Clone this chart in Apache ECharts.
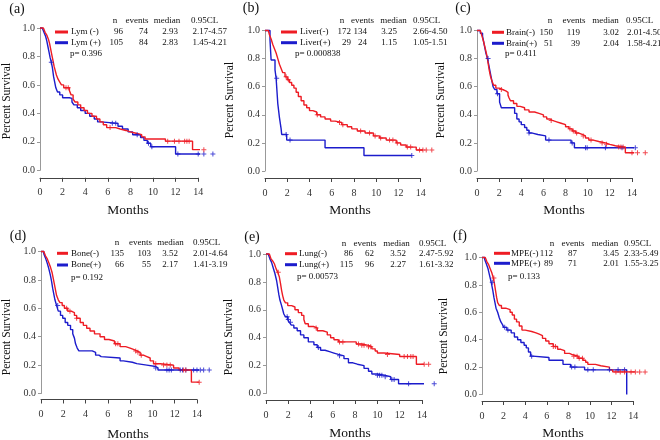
<!DOCTYPE html>
<html><head><meta charset="utf-8">
<script src="https://cdn.jsdelivr.net/npm/echarts@6/dist/echarts.min.js"></script>
<style>html,body{margin:0;padding:0;background:#fff}#c{width:660px;height:440px}</style>
</head><body><div id="c"></div>
<script>
// ---------- DATA ----------
const panelLabels = ['(a)','(b)','(c)','(d)','(e)','(f)'];
const groupNames = [['Lym (-)','Lym (+)'],['Liver(-)','Liver(+)'],['Brain(-)','Brain(+)'],['Bone(-)','Bone(+)'],['Lung(-)','Lung(+)'],['MPE(-)','MPE(+)']];
const nVals = [[96,105],[172,29],[150,51],[135,66],[86,115],[112,89]];
const eventVals = [[74,84],[134,24],[119,39],[103,55],[62,96],[87,71]];
const medianVals = [['2.93','2.83'],['3.25','1.15'],['3.02','2.04'],['3.52','2.17'],['3.52','2.27'],['3.45','2.01']];
const clVals = [['2.17-4.57','1.45-4.21'],['2.66-4.50','1.05-1.51'],['2.01-4.50','1.58-4.21'],['2.01-4.64','1.41-3.19'],['2.47-5.92','1.61-3.32'],['2.33-5.49','1.55-3.25']];
const pVals = ['0.396','0.000838','0.411','0.192','0.00573','0.133'];
const headerText = ['n','events','median','0.95CL'];
const xTitle = 'Months';
const yTitle = 'Percent Survival';

// Kaplan-Meier curves: [months, survival]
const lymNeg = [[0,1],[0.3,0.99],[0.45,0.97],[0.6,0.95],[0.75,0.92],[0.85,0.89],[0.95,0.85],[1.05,0.81],[1.15,0.77],[1.25,0.73],[1.35,0.70],[1.45,0.67],[1.6,0.64],[1.75,0.62],[1.9,0.60],[2.1,0.58],[2.6,0.56],[2.75,0.53],[2.93,0.50],[3.1,0.48],[3.35,0.46],[3.6,0.44],[3.9,0.42],[4.2,0.40],[4.6,0.38],[5.0,0.36],[5.3,0.34],[5.6,0.32],[5.9,0.30],[6.7,0.29],[7.1,0.28],[7.6,0.27],[8.0,0.26],[8.5,0.25],[9.0,0.235],[9.3,0.22],[11.1,0.205],[13.5,0.145],[14.6,0.145]];
const lymNegCens = [2.3,2.5,6.2,11.3,11.9,12.3,12.8,13.0,13.2,14.5];
const lymPos = [[0,1],[0.2,0.99],[0.35,0.97],[0.5,0.94],[0.6,0.91],[0.7,0.87],[0.8,0.83],[0.9,0.79],[1.0,0.76],[1.1,0.72],[1.2,0.66],[1.3,0.62],[1.4,0.58],[1.55,0.55],[1.75,0.53],[2.0,0.51],[2.6,0.505],[2.83,0.48],[3.0,0.46],[3.3,0.44],[3.6,0.42],[4.0,0.40],[4.4,0.38],[4.8,0.36],[5.1,0.34],[5.4,0.33],[6.9,0.31],[7.3,0.29],[7.8,0.27],[8.2,0.25],[8.9,0.23],[9.2,0.21],[9.5,0.19],[9.8,0.165],[12.0,0.115],[15.3,0.115]];
const lymPosCens = [1.0,6.4,6.7,8.6,9.6,9.9,12.2,14.0,14.5,15.3];

const liverNeg = [[0,1],[0.3,0.99],[0.4,0.97],[0.55,0.94],[0.7,0.90],[0.85,0.87],[1.0,0.84],[1.15,0.80],[1.3,0.76],[1.45,0.73],[1.6,0.70],[1.8,0.67],[2.0,0.65],[2.2,0.63],[2.4,0.61],[2.6,0.59],[2.8,0.56],[3.0,0.53],[3.25,0.50],[3.5,0.47],[3.75,0.45],[4.0,0.43],[4.3,0.42],[4.65,0.40],[5.0,0.385],[5.4,0.37],[5.9,0.355],[6.3,0.345],[6.9,0.33],[7.4,0.315],[7.8,0.30],[8.3,0.285],[9.0,0.27],[9.75,0.25],[10.3,0.235],[10.9,0.22],[11.8,0.20],[12.2,0.185],[12.7,0.17],[13.6,0.15],[15.0,0.15]];
const liverNegCens = [1.9,2.1,4.7,6.7,7.0,8.6,9.4,9.9,10.4,11.2,11.5,11.9,12.8,13.1,13.9,14.2,14.5,15.0];
const liverPos = [[0,1],[0.45,0.93],[0.5,0.86],[0.55,0.79],[0.9,0.72],[1.0,0.66],[1.15,0.48],[1.3,0.38],[1.45,0.30],[1.5,0.26],[1.95,0.22],[5.4,0.165],[8.9,0.11],[13.2,0.11]];
const liverPosCens = [1.05,1.9,2.25,13.2];

const brainNeg = [[0,1],[0.3,0.99],[0.45,0.96],[0.6,0.92],[0.75,0.87],[0.9,0.82],[1.0,0.77],[1.1,0.72],[1.2,0.68],[1.35,0.64],[1.5,0.61],[1.7,0.59],[2.0,0.58],[2.3,0.57],[2.6,0.56],[2.8,0.54],[2.9,0.52],[3.02,0.50],[3.3,0.48],[3.6,0.46],[3.9,0.45],[4.3,0.435],[4.7,0.42],[5.2,0.41],[5.6,0.40],[6.0,0.385],[6.3,0.37],[6.6,0.36],[6.8,0.35],[7.2,0.34],[7.6,0.33],[8.0,0.315],[8.3,0.30],[8.6,0.285],[8.9,0.27],[9.2,0.26],[9.5,0.25],[9.8,0.235],[10.1,0.22],[10.5,0.21],[11.0,0.20],[11.6,0.19],[12.0,0.18],[12.5,0.17],[13.4,0.13],[15.2,0.13]];
const brainNegCens = [2.2,6.7,8.4,8.7,9.0,9.6,10.3,11.3,11.7,12.8,13.0,13.2,14.0,14.5,15.2];
const brainPos = [[0,1],[0.3,0.98],[0.5,0.96],[0.6,0.92],[0.7,0.88],[0.8,0.84],[0.95,0.80],[1.05,0.76],[1.15,0.72],[1.3,0.66],[1.45,0.60],[1.6,0.58],[1.8,0.55],[2.04,0.49],[2.2,0.45],[3.4,0.41],[3.6,0.37],[3.8,0.35],[4.0,0.33],[4.3,0.31],[4.5,0.29],[4.7,0.27],[5.0,0.26],[5.5,0.25],[6.2,0.22],[8.5,0.20],[8.8,0.165],[14.3,0.165]];
const brainPosCens = [1.0,1.85,4.7,6.5,8.6,9.8,9.95,11.6,13.1,14.3];

const boneNeg = [[0,1],[0.25,0.99],[0.4,0.97],[0.55,0.95],[0.7,0.92],[0.85,0.89],[1.0,0.85],[1.1,0.81],[1.2,0.77],[1.3,0.73],[1.4,0.69],[1.55,0.66],[1.7,0.64],[1.9,0.62],[2.1,0.60],[2.4,0.58],[2.7,0.57],[3.0,0.55],[3.2,0.53],[3.52,0.50],[3.8,0.48],[4.1,0.46],[4.4,0.44],[4.8,0.42],[5.3,0.40],[5.7,0.38],[6.1,0.37],[6.6,0.35],[7.1,0.33],[7.6,0.32],[8.0,0.31],[8.3,0.30],[8.6,0.29],[8.9,0.27],[9.2,0.26],[9.5,0.25],[9.8,0.23],[10.1,0.21],[10.7,0.20],[11.9,0.18],[12.4,0.165],[13.5,0.08],[14.2,0.08]];
const boneNegCens = [2.3,2.6,3.2,6.7,6.9,8.5,8.7,9.0,10.3,11.0,11.3,11.6,12.8,13.0,14.2];
const bonePos = [[0,1],[0.25,0.985],[0.4,0.955],[0.55,0.92],[0.7,0.88],[0.85,0.83],[0.95,0.79],[1.05,0.74],[1.15,0.70],[1.25,0.66],[1.4,0.62],[1.55,0.58],[1.75,0.55],[1.95,0.53],[2.17,0.50],[2.4,0.48],[2.65,0.45],[2.85,0.42],[3.0,0.39],[3.1,0.35],[3.25,0.32],[3.4,0.30],[4.6,0.29],[4.9,0.27],[5.2,0.26],[5.4,0.25],[7.1,0.23],[7.4,0.22],[8.2,0.21],[8.6,0.20],[9.5,0.19],[10.3,0.18],[10.5,0.165],[15.1,0.165]];
const bonePosCens = [1.5,10.3,11.3,11.5,11.7,12.5,12.7,13.0,13.7,14.0,14.3,14.6,15.1];

const lungNeg = [[0,1],[0.3,0.988],[0.45,0.965],[0.6,0.95],[0.75,0.93],[0.9,0.895],[1.05,0.87],[1.2,0.835],[1.3,0.79],[1.4,0.74],[1.5,0.70],[1.6,0.67],[1.75,0.65],[1.95,0.63],[2.3,0.62],[2.6,0.60],[2.9,0.58],[3.2,0.56],[3.4,0.53],[3.52,0.50],[3.8,0.48],[4.3,0.47],[4.6,0.45],[5.1,0.44],[5.5,0.42],[5.8,0.40],[6.1,0.385],[6.5,0.37],[8.1,0.355],[8.6,0.345],[9.2,0.335],[9.5,0.32],[9.8,0.305],[10.0,0.29],[10.6,0.28],[12.0,0.265],[13.5,0.21],[14.6,0.21]];
const lungNegCens = [1.1,4.5,6.6,6.9,8.3,8.6,8.8,9.2,9.4,10.9,12.4,12.7,13.0,13.2,14.2,14.6];
const lungPos = [[0,1],[0.2,0.99],[0.35,0.965],[0.5,0.94],[0.65,0.90],[0.8,0.86],[0.95,0.81],[1.05,0.76],[1.15,0.71],[1.25,0.67],[1.4,0.63],[1.5,0.60],[1.6,0.57],[1.75,0.55],[1.95,0.53],[2.1,0.51],[2.27,0.49],[2.5,0.47],[2.8,0.45],[3.1,0.42],[3.4,0.40],[3.8,0.37],[4.3,0.35],[4.6,0.33],[4.9,0.31],[5.3,0.30],[5.7,0.29],[6.1,0.28],[6.5,0.27],[7.0,0.25],[7.4,0.22],[7.8,0.21],[8.2,0.20],[8.8,0.18],[9.2,0.16],[9.5,0.14],[10.0,0.13],[10.7,0.12],[11.2,0.10],[11.9,0.07],[15.1,0.07]];
const lungPosCens = [1.9,2.0,2.2,4.7,6.6,10.0,10.2,10.4,10.7,11.3,11.5,12.8,15.1];

const mpeNeg = [[0,1],[0.3,0.99],[0.45,0.97],[0.6,0.95],[0.75,0.92],[0.9,0.89],[1.05,0.85],[1.15,0.81],[1.25,0.76],[1.35,0.71],[1.45,0.67],[1.6,0.65],[1.8,0.63],[2.2,0.62],[2.6,0.60],[2.8,0.58],[3.0,0.55],[3.2,0.53],[3.45,0.50],[3.7,0.47],[4.0,0.46],[4.6,0.45],[5.0,0.44],[5.3,0.43],[5.6,0.41],[5.9,0.39],[6.2,0.37],[6.6,0.35],[7.0,0.33],[7.3,0.32],[7.65,0.30],[8.1,0.29],[8.4,0.28],[8.9,0.265],[9.35,0.25],[9.6,0.235],[9.8,0.22],[10.5,0.21],[11.0,0.20],[11.8,0.18],[12.1,0.165],[15.1,0.165]];
const mpeNegCens = [1.1,6.6,6.8,8.5,8.8,9.0,9.3,12.4,12.8,13.2,13.8,14.2,14.6,15.1];
const mpePos = [[0,1],[0.25,0.985],[0.4,0.955],[0.55,0.92],[0.7,0.87],[0.85,0.82],[1.0,0.76],[1.1,0.71],[1.2,0.67],[1.3,0.63],[1.45,0.60],[1.6,0.56],[1.75,0.53],[1.9,0.51],[2.01,0.49],[2.3,0.47],[2.7,0.45],[3.0,0.42],[3.3,0.40],[3.6,0.38],[3.9,0.36],[4.1,0.34],[4.3,0.31],[4.5,0.28],[4.7,0.27],[6.2,0.25],[7.5,0.22],[8.2,0.20],[9.5,0.18],[13.4,0]];
const mpePosCens = [0.95,2.1,2.4,4.6,8.3,8.6,9.8,10.3,11.8,12.6,13.2];

const curves = [[lymNeg,lymPos],[liverNeg,liverPos],[brainNeg,brainPos],[boneNeg,bonePos],[lungNeg,lungPos],[mpeNeg,mpePos]];
const censors = [[lymNegCens,lymPosCens],[liverNegCens,liverPosCens],[brainNegCens,brainPosCens],[boneNegCens,bonePosCens],[lungNegCens,lungPosCens],[mpeNegCens,mpePosCens]];

// ---------- LAYOUT (positions / styles) ----------
const grids = [
  {left:40, top:28, height:142.3, ppm:11.3, xOff:7.5},
  {left:265, top:30.5, height:140.5, ppm:11.12, xOff:7},
  {left:477, top:30.5, height:140.5, ppm:11.07, xOff:7},
  {left:41, top:251.5, height:142, ppm:11.14, xOff:6},
  {left:266, top:254, height:139.5, ppm:11.14, xOff:6.5},
  {left:482, top:257.5, height:137, ppm:10.8, xOff:6.5}
];
const labelPos = [[17,9],[251,8.5],[463,8.5],[18,236],[252,237],[460,236]];
const yTitlePos = [[7,101],[230,100],[441,100],[7,337],[229,337],[444,336]];
const xTitlePos = [[128,210.5],[350,210.5],[564,210.5],[128,434],[350,433],[563,433]];
const tables = [
 {lx:[55,68], name:71, n:123, ev:148, md:178, cl:192.5, hn:115, he:137, hm:167, hcl:191, y:[20.5,32,42.7,54], px:70},
 {lx:[281,297], name:300, n:351, ev:367, md:397, cl:413, hn:342, he:362.5, hm:393.5, hcl:413, y:[20.7,32,42.7,54], px:295},
 {lx:[492,504], name:506, n:553, ev:580, md:619, cl:627, hn:550, he:574, hm:605.5, hcl:626, y:[20.7,32.3,43.3,54], px:505},
 {lx:[57,68], name:71, n:124, ev:151, md:178, cl:193, hn:117, he:140.5, hm:170.5, hcl:193, y:[242.7,253.3,265,277.3], px:71},
 {lx:[285,297], name:299, n:353, ev:374, md:406, cl:419, hn:344, he:365, hm:396.5, hcl:419, y:[243.3,253.7,264.7,277], px:297},
 {lx:[494,510], name:511, n:553, ev:577, md:619, cl:624, hn:552, he:573, hm:605, hcl:624, y:[243.3,253.3,263.3,276.7], px:508}
];
const COLORS = ['#ee1c24', '#1c1ccc'];
const SERIF = 'Liberation Serif';

function survAt(curve, t) {
  let s = 1;
  for (const p of curve) { if (p[0] <= t) s = p[1]; else break; }
  return s;
}
function txt(x, y, text, size, align, extra) {
  return Object.assign({
    type: 'text', x: x, y: y, silent: true,
    style: { text: String(text), fontFamily: SERIF, fontSize: size, fill: '#111',
      textAlign: align, align: align, textVerticalAlign: 'middle', verticalAlign: 'middle' }
  }, extra || {});
}

const option = { animation: false, grid: [], xAxis: [], yAxis: [], series: [], graphic: { elements: [] } };
const G = option.graphic.elements;

grids.forEach((g, i) => {
  option.grid.push({ left: g.left, top: g.top, width: 14 * g.ppm, height: g.height, containLabel: false });
  option.xAxis.push({
    gridIndex: i, type: 'value', min: 0, max: 14, interval: 2, offset: g.xOff,
    axisLine: { onZero: false, lineStyle: { color: '#444', width: 1 } },
    axisTick: { length: 4, lineStyle: { color: '#444' } },
    axisLabel: { margin: 10, fontFamily: SERIF, fontSize: 10, color: '#333' },
    splitLine: { show: false }
  });
  option.yAxis.push({
    gridIndex: i, type: 'value', min: 0, max: 1, interval: 0.2,
    axisLine: { show: true, onZero: false, lineStyle: { color: '#999', width: 1 } },
    axisTick: { show: true, length: 3, lineStyle: { color: '#999' } },
    axisLabel: { margin: 5, fontFamily: SERIF, fontSize: 10, color: '#333', formatter: v => v.toFixed(1) },
    splitLine: { show: false }
  });
  [0, 1].forEach(j => {
    const c = curves[i][j];
    option.series.push({
      type: 'line', xAxisIndex: i, yAxisIndex: i, data: c, step: 'end', showSymbol: false,
      clip: false, silent: true, z: j === 0 ? 3 : 2,
      lineStyle: { color: COLORS[j], width: 1.4 }
    });
    option.series.push({
      type: 'scatter', xAxisIndex: i, yAxisIndex: i, clip: false, silent: true, z: j === 0 ? 4 : 3,
      data: censors[i][j].map(t => [t, survAt(c, t)]),
      symbol: 'path://M4,0H6V4H10V6H6V10H4V6H0V4H4Z', symbolSize: 5,
      itemStyle: { color: COLORS[j] }
    });
  });

  // panel texts
  G.push(txt(labelPos[i][0], labelPos[i][1], panelLabels[i], 14, 'center'));
  G.push(txt(yTitlePos[i][0], yTitlePos[i][1], yTitle, 11.5, 'center', { rotation: Math.PI / 2 }));
  G.push(txt(xTitlePos[i][0], xTitlePos[i][1], xTitle, 13.5, 'center'));
  const t = tables[i];
  G.push(txt(t.hn, t.y[0], headerText[0], 9, 'center'));
  G.push(txt(t.he, t.y[0], headerText[1], 9, 'center'));
  G.push(txt(t.hm, t.y[0], headerText[2], 9, 'center'));
  G.push(txt(t.hcl, t.y[0], headerText[3], 9, 'left'));
  [0, 1].forEach(j => {
    const y = t.y[1 + j];
    G.push({ type: 'line', silent: true, shape: { x1: t.lx[0], y1: y, x2: t.lx[1], y2: y }, style: { stroke: COLORS[j], lineWidth: 3 } });
    G.push(txt(t.name, y, groupNames[i][j], 9, 'left'));
    G.push(txt(t.n, y, nVals[i][j], 9, 'right'));
    G.push(txt(t.ev, y, eventVals[i][j], 9, 'right'));
    G.push(txt(t.md, y, medianVals[i][j], 9, 'right'));
    G.push(txt(t.cl, y, clVals[i][j], 9, 'left'));
  });
  G.push(txt(t.px, t.y[3], 'p= ' + pVals[i], 9, 'left'));
});

const chart = echarts.init(document.getElementById('c'), null, { renderer: 'canvas' });
chart.setOption(option);
</script></body></html>
